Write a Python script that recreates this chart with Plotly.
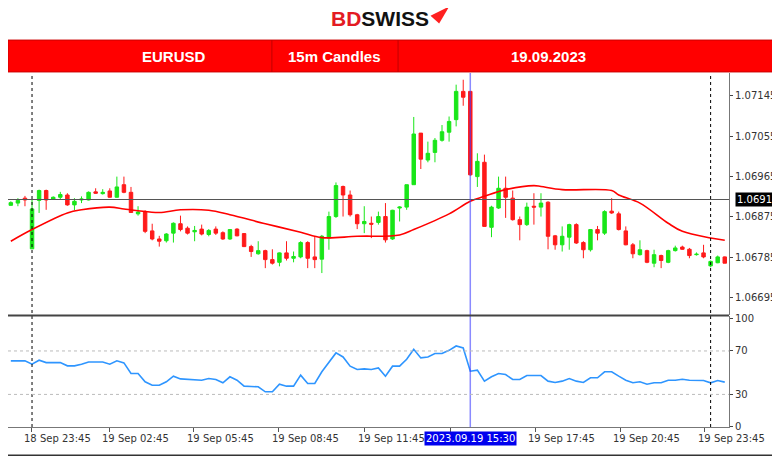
import plotly.graph_objects as go

# 15m candles, index 0 = 18 Sep 23:00
opens = [1.06901, 1.06906, 1.06917, 1.06804, 1.06912, 1.06934, 1.06915, 1.06919, 1.06924, 1.06902,
         1.06913, 1.06913, 1.06931, 1.06927, 1.06933, 1.06919, 1.06947, 1.06930, 1.06882, 1.06887,
         1.06844, 1.06826, 1.06822, 1.06839, 1.06860, 1.06850, 1.06842, 1.06848, 1.06836, 1.06848,
         1.06840, 1.06826, 1.06848, 1.06838, 1.06809, 1.06793, 1.06800, 1.06780, 1.06774, 1.06795,
         1.06783, 1.06786, 1.06818, 1.06786, 1.06781, 1.06828, 1.06876, 1.06943, 1.06924, 1.06880,
         1.06860, 1.06861, 1.06863, 1.06876, 1.06826, 1.06895, 1.06897, 1.06947, 1.07062, 1.07002,
         1.07019, 1.07046, 1.07064, 1.07092, 1.07155, 1.07155, 1.06965, 1.06997, 1.06852, 1.06895,
         1.06939, 1.06917, 1.06869, 1.06858, 1.06899, 1.06897, 1.06908, 1.06833, 1.06813, 1.06830,
         1.06858, 1.06818, 1.06802, 1.06847, 1.06839, 1.06888, 1.06882, 1.06844, 1.06813, 1.06791,
         1.06800, 1.06772, 1.06789, 1.06774, 1.06800, 1.06808, 1.06803, 1.06791, 1.06795, 1.06766,
         1.06773, 1.06786]
highs = [1.06910, 1.06917, 1.06922, 1.06913, 1.06936, 1.06936, 1.06921, 1.06931, 1.06928, 1.06917,
         1.06921, 1.06932, 1.06939, 1.06937, 1.06939, 1.06965, 1.06965, 1.06942, 1.06899, 1.06890,
         1.06860, 1.06833, 1.06839, 1.06863, 1.06878, 1.06854, 1.06855, 1.06858, 1.06848, 1.06854,
         1.06843, 1.06848, 1.06850, 1.06839, 1.06813, 1.06821, 1.06802, 1.06803, 1.06796, 1.06821,
         1.06798, 1.06821, 1.06821, 1.06832, 1.06835, 1.06887, 1.06952, 1.06945, 1.06934, 1.06882,
         1.06899, 1.06876, 1.06887, 1.06906, 1.06891, 1.06899, 1.06947, 1.07098, 1.07062, 1.07043,
         1.07051, 1.07080, 1.07099, 1.07170, 1.07181, 1.07155, 1.07017, 1.07014, 1.06900, 1.06965,
         1.06965, 1.06934, 1.06876, 1.06907, 1.06928, 1.06928, 1.06910, 1.06835, 1.06854, 1.06860,
         1.06861, 1.06821, 1.06848, 1.06855, 1.06890, 1.06917, 1.06887, 1.06854, 1.06817, 1.06823,
         1.06802, 1.06802, 1.06791, 1.06802, 1.06811, 1.06811, 1.06806, 1.06796, 1.06813, 1.06778,
         1.06789, 1.06787]
lows = [1.06900, 1.06899, 1.06899, 1.06804, 1.06884, 1.06891, 1.06913, 1.06915, 1.06900, 1.06890,
        1.06906, 1.06912, 1.06927, 1.06925, 1.06918, 1.06918, 1.06928, 1.06884, 1.06878, 1.06839,
        1.06823, 1.06809, 1.06818, 1.06818, 1.06843, 1.06836, 1.06821, 1.06834, 1.06832, 1.06835,
        1.06824, 1.06824, 1.06832, 1.06808, 1.06786, 1.06791, 1.06761, 1.06769, 1.06765, 1.06778,
        1.06774, 1.06783, 1.06761, 1.06761, 1.06750, 1.06802, 1.06873, 1.06876, 1.06876, 1.06848,
        1.06839, 1.06828, 1.06858, 1.06818, 1.06824, 1.06865, 1.06891, 1.06947, 1.06982, 1.06997,
        1.06997, 1.07043, 1.07043, 1.07077, 1.07123, 1.06967, 1.06942, 1.06854, 1.06830, 1.06893,
        1.06873, 1.06867, 1.06823, 1.06855, 1.06858, 1.06876, 1.06803, 1.06802, 1.06798, 1.06802,
        1.06815, 1.06783, 1.06798, 1.06823, 1.06835, 1.06882, 1.06845, 1.06812, 1.06783, 1.06789,
        1.06772, 1.06763, 1.06761, 1.06772, 1.06798, 1.06802, 1.06783, 1.06789, 1.06783, 1.06763,
        1.06772, 1.06772]
closes = [1.06907, 1.06912, 1.06913, 1.06893, 1.06934, 1.06913, 1.06919, 1.06925, 1.06902, 1.06910,
          1.06915, 1.06930, 1.06928, 1.06930, 1.06919, 1.06942, 1.06930, 1.06885, 1.06886, 1.06843,
          1.06826, 1.06821, 1.06837, 1.06861, 1.06847, 1.06839, 1.06845, 1.06837, 1.06845, 1.06839,
          1.06826, 1.06847, 1.06833, 1.06809, 1.06798, 1.06800, 1.06780, 1.06772, 1.06795, 1.06783,
          1.06787, 1.06818, 1.06783, 1.06780, 1.06832, 1.06876, 1.06945, 1.06924, 1.06880, 1.06860,
          1.06865, 1.06859, 1.06876, 1.06824, 1.06890, 1.06897, 1.06947, 1.07060, 1.07004, 1.07017,
          1.07046, 1.07065, 1.07088, 1.07155, 1.07142, 1.06969, 1.06999, 1.06854, 1.06897, 1.06939,
          1.06919, 1.06869, 1.06858, 1.06897, 1.06897, 1.06906, 1.06832, 1.06813, 1.06832, 1.06858,
          1.06817, 1.06802, 1.06847, 1.06839, 1.06887, 1.06884, 1.06847, 1.06813, 1.06793, 1.06802,
          1.06774, 1.06791, 1.06778, 1.06800, 1.06806, 1.06803, 1.06789, 1.06792, 1.06786, 1.06776,
          1.06786, 1.06772]

ma_idx = [0, 3, 8, 10, 14, 16, 18, 21, 24, 28, 31, 36, 41, 44, 49, 55, 57, 62, 65, 67, 70,
          74, 75, 78, 85, 86, 89, 93, 95, 99, 101]
ma_val = [1.06821, 1.06847, 1.06884, 1.06891, 1.06897, 1.06893, 1.06889, 1.06885, 1.06891,
          1.06890, 1.06880, 1.06860, 1.06841, 1.06829, 1.06832, 1.06835, 1.06847, 1.06882,
          1.06910, 1.06921, 1.06936, 1.06945, 1.06943, 1.06936, 1.06934, 1.06924, 1.06906,
          1.06861, 1.06843, 1.06828, 1.06823]

rsi = [60.9, 61.0, 60.9, 57.8, 61.5, 59.3, 59.3, 59.3, 56.3, 56.3,
       57.8, 59.9, 59.9, 59.9, 57.8, 60.9, 59.0, 49.2, 49.2, 41.6,
       38.5, 38.5, 41.6, 46.8, 44.3, 43.7, 43.4, 43.1, 44.6, 43.7,
       40.7, 46.2, 43.1, 37.6, 37.3, 37.0, 32.4, 32.4, 39.4, 37.6,
       37.6, 47.7, 40.1, 40.1, 50.8, 59.9, 68.2, 64.5, 56.0, 52.9,
       53.5, 52.9, 54.4, 46.8, 56.0, 56.0, 62.4, 71.6, 63.6, 64.5,
       67.6, 67.6, 70.6, 74.6, 72.8, 51.4, 52.3, 42.2, 46.2, 49.2,
       48.3, 43.7, 43.7, 47.4, 47.4, 47.4, 42.2, 41.0, 42.2, 44.6,
       42.2, 41.0, 45.3, 45.3, 50.8, 50.8, 46.8, 43.1, 40.7, 41.6,
       39.4, 40.7, 40.7, 43.1, 43.1, 44.0, 43.1, 43.0, 42.8, 40.7,
       42.8, 41.3]

tick_pos = [2.9, 13.9, 25.9, 37.9, 50.1, 62.2, 74.2, 86.2, 98.2]
tick_text = ["18 Sep 23:45", "19 Sep 02:45", "19 Sep 05:45", "19 Sep 08:45", "19 Sep 11:45",
             "19 Sep 14:45", "19 Sep 17:45", "19 Sep 20:45", "19 Sep 23:45"]
price_ticks = [1.07145, 1.07055, 1.06965, 1.06875, 1.06785, 1.06695]
last_price = 1.06914
cursor_idx = 65
cursor_label = "2023.09.19 15:30"

x = list(range(len(opens)))
GREEN = "#19e619"
RED = "#ff1a1a"
FONT = "Liberation Sans"

fig = go.Figure()
fig.add_trace(go.Candlestick(
    x=x, open=opens, high=highs, low=lows, close=closes,
    increasing=dict(line=dict(color=GREEN, width=1), fillcolor=GREEN),
    decreasing=dict(line=dict(color=RED, width=1), fillcolor=RED),
    whiskerwidth=0, xaxis="x", yaxis="y2", hoverinfo="skip"))
fig.add_trace(go.Scatter(x=ma_idx, y=ma_val, mode="lines", line=dict(color="#ff0000", width=1.6, shape="spline"),
                         xaxis="x", yaxis="y2"))
fig.add_trace(go.Scatter(x=x, y=rsi, mode="lines", line=dict(color="#2e95ff", width=1.6),
                         xaxis="x", yaxis="y"))

# plot area is 721 px wide, 354 px tall
shapes = [
    dict(type="line", xref="paper", yref="y2", x0=0, x1=1, y0=last_price, y1=last_price,
         line=dict(color="#555555", width=1.2)),
    dict(type="line", xref="x", yref="paper", x0=3, x1=3, y0=0, y1=1, line=dict(color="black", width=1, dash="dot")),
    dict(type="line", xref="x", yref="paper", x0=99, x1=99, y0=0, y1=1, line=dict(color="black", width=1, dash="dot")),
    dict(type="line", xref="x", yref="paper", x0=cursor_idx, x1=cursor_idx, y0=0, y1=1,
         line=dict(color="rgba(60,60,255,0.6)", width=1.5)),
    dict(type="line", xref="paper", yref="y", x0=0, x1=1, y0=30, y1=30, line=dict(color="#bbbbbb", width=1, dash="dot")),
    dict(type="line", xref="paper", yref="y", x0=0, x1=1, y0=70, y1=70, line=dict(color="#bbbbbb", width=1, dash="dot")),
    dict(type="line", xref="paper", yref="paper", x0=0, x1=1, y0=0.315, y1=0.315, line=dict(color="#444444", width=2)),
    # header bar
    dict(type="rect", xref="paper", yref="paper", x0=0, x1=1.071, y0=1.003, y1=1.093,
         fillcolor="#ff0000", line=dict(color="#cc0000", width=1), layer="above"),
    dict(type="line", xref="paper", yref="paper", x0=0.366, x1=0.366, y0=1.003, y1=1.093, line=dict(color="#c00000", width=1)),
    dict(type="line", xref="paper", yref="paper", x0=0.541, x1=0.541, y0=1.003, y1=1.093, line=dict(color="#c00000", width=1)),
    # logo arrow
    dict(type="path", xref="paper", yref="paper", path="M 0.612 1.188 L 0.598 1.140 L 0.586 1.162 Z",
         fillcolor="#ff2020", line=dict(width=0)),
    dict(type="line", xref="paper", yref="paper", x0=0, x1=1.071, y0=-0.08, y1=-0.08, line=dict(color="#333333", width=1.5)),
]

annotations = [
    dict(xref="paper", yref="paper", x=0.516, y=1.155, yanchor="middle", showarrow=False,
         text="<b><span style='color:#e31b23'>BD</span>SWISS</b>", font=dict(family=FONT, size=21, color="#111111")),
    dict(xref="paper", yref="paper", x=0.183, y=1.048, yanchor="middle", showarrow=False, text="<b>EURUSD</b>",
         font=dict(family=FONT, size=15, color="white")),
    dict(xref="paper", yref="paper", x=0.4535, y=1.048, yanchor="middle", showarrow=False, text="<b>15m Candles</b>",
         font=dict(family=FONT, size=15, color="white")),
    dict(xref="paper", yref="paper", x=0.804, y=1.048, yanchor="middle", showarrow=False, text="<b>19.09.2023</b>",
         font=dict(family=FONT, size=15, color="white")),
    dict(xref="paper", yref="y2", x=1.008, y=last_price, xanchor="left", showarrow=False,
         text="1.06914", bgcolor="black", font=dict(family="DejaVu Sans", size=10, color="white"), borderpad=1),
]
for p, t in zip(tick_pos, tick_text):
    if p == 62.2:
        continue
    annotations.append(dict(xref="x", yref="paper", x=p, y=-0.012, xanchor="left", yanchor="top",
                            xshift=-9, showarrow=False, text=t,
                            font=dict(family="DejaVu Sans", size=10, color="#333333")))
annotations.append(dict(xref="x", yref="paper", x=cursor_idx, y=-0.01, yanchor="top", showarrow=False,
                        text=cursor_label, bgcolor="#0000ee",
                        font=dict(family="DejaVu Sans", size=10, color="white")))

# page body adds an 8 px offset, so margins are shifted to compensate
fig.update_layout(
    width=780, height=462,
    margin=dict(l=0, r=59, t=65, b=43, autoexpand=False),
    paper_bgcolor="white", plot_bgcolor="white",
    showlegend=False,
    shapes=shapes, annotations=annotations,
    xaxis=dict(range=[-0.4, 101.6], tickvals=tick_pos, ticktext=[""] * len(tick_pos), ticks="outside",
               ticklen=4, tickcolor="#555", showgrid=False, zeroline=False, showline=True,
               linecolor="#777", rangeslider=dict(visible=False), anchor="y"),
    yaxis=dict(domain=[0, 0.313], range=[0, 102], side="right", tickvals=[0, 30, 70, 100],
               ticks="outside", ticklen=3, showgrid=False, zeroline=False, showline=True, linecolor="#777",
               tickfont=dict(family="DejaVu Sans", size=10, color="#333333")),
    yaxis2=dict(domain=[0.317, 1], range=[1.06657, 1.07196], side="right", tickvals=price_ticks,
                tickformat=".5f", ticks="outside", ticklen=3, showgrid=False, zeroline=False,
                showline=True, linecolor="#777", anchor="x",
                tickfont=dict(family="DejaVu Sans", size=10, color="#333333")),
)

fig.write_html("out.html")
